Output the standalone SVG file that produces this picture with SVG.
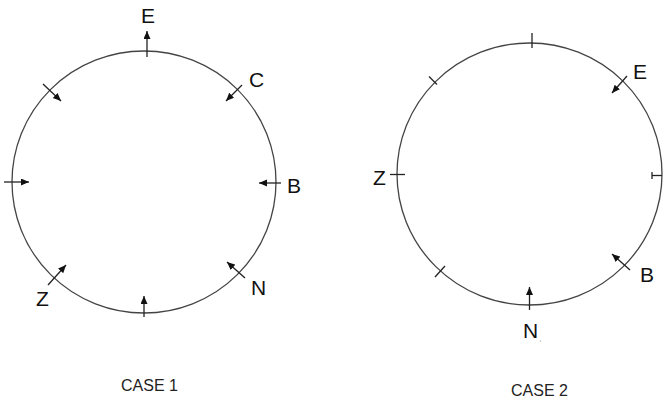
<svg xmlns="http://www.w3.org/2000/svg" width="663" height="399" viewBox="0 0 663 399">
<style>
.ring{fill:none;stroke:#444;stroke-width:1.3}
.ln{fill:none;stroke:#222;stroke-width:1.3}
.ar{fill:none;stroke:#222;stroke-width:1.3;marker-end:url(#ah)}
.lbl{font-family:"Liberation Sans",Arial,sans-serif;font-size:21px;fill:#111}
.cap{font-family:"Liberation Sans",Arial,sans-serif;font-size:16px;fill:#222}
</style>
<defs>
<marker id="ah" markerUnits="userSpaceOnUse" markerWidth="9" markerHeight="8" refX="8" refY="3.5" orient="auto">
<path d="M0,0 L8,3.5 L0,7 z" fill="#111"/>
</marker>
</defs>
<rect width="663" height="399" fill="#fff"/>
<g id="case1">
<ellipse class="ring" cx="144" cy="182" rx="132" ry="131"/>
<text class="cap" x="121" y="391">CASE 1</text>
</g>
<g id="case2">
<ellipse class="ring" cx="529.5" cy="174" rx="132.5" ry="131"/>
<text class="cap" x="511" y="396">CASE 2</text>
</g>
<g id="connectors">
<line class="ar" x1="147" y1="57" x2="147" y2="31"/>
<line class="ar" x1="242" y1="85" x2="226" y2="101"/>
<line class="ar" x1="281" y1="183" x2="259" y2="183"/>
<line class="ar" x1="245" y1="278" x2="227" y2="262"/>
<line class="ar" x1="144" y1="317" x2="144" y2="296"/>
<line class="ar" x1="48" y1="285" x2="66" y2="265"/>
<line class="ar" x1="4" y1="182" x2="29" y2="182"/>
<line class="ar" x1="43" y1="84" x2="61" y2="101"/>
<line class="ln" x1="532" y1="33" x2="532" y2="48"/>
<line class="ln" x1="429" y1="76.5" x2="437" y2="84.5"/>
<line class="ln" x1="390" y1="174.5" x2="405" y2="174.5"/>
<line class="ln" x1="652" y1="175.5" x2="662" y2="175.5"/>
<line class="ln" x1="652" y1="172" x2="652" y2="179"/>
<line class="ln" x1="435" y1="277" x2="445" y2="266"/>
<line class="ar" x1="627" y1="76" x2="612" y2="93"/>
<line class="ar" x1="630" y1="270" x2="612" y2="254"/>
<line class="ar" x1="529.5" y1="310" x2="529.5" y2="287"/>
</g>
<g id="labels">
<text class="lbl" x="141" y="23">E</text>
<text class="lbl" x="249" y="87">C</text>
<text class="lbl" x="287" y="193">B</text>
<text class="lbl" x="251" y="295">N</text>
<text class="lbl" x="36" y="306">Z</text>
<text class="lbl" x="633" y="79">E</text>
<text class="lbl" x="373" y="185">Z</text>
<text class="lbl" x="640" y="282">B</text>
<text class="lbl" x="523" y="338">N</text>
<circle cx="540.5" cy="341" r="0.6" fill="#888"/>
</g>
</svg>
